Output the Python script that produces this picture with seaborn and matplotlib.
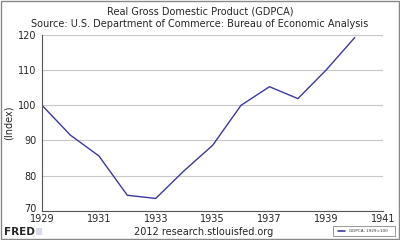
import matplotlib
matplotlib.use("Agg")
import pandas as pd
import seaborn as sns
import matplotlib.pyplot as plt
import matplotlib.transforms as mtransforms
from matplotlib.patches import Rectangle

years = [1929, 1930, 1931, 1932, 1933, 1934, 1935, 1936, 1937, 1938, 1939, 1940]
gdp_index = [100.0, 91.5, 85.6, 74.4, 73.5, 81.4, 88.6, 100.0, 105.3, 101.9, 110.1, 119.3]
x_ticks = [1929, 1931, 1933, 1935, 1937, 1939, 1941]
y_ticks = [70, 80, 90, 100, 110, 120]

df = pd.DataFrame({"year": years, "gdp": gdp_index})

sns.set_style("white")
plt.rcParams["font.family"] = ["DejaVu Sans"]

fig = plt.figure(figsize=(4, 2.4), dpi=100)
ax = fig.add_axes([0.105, 0.122, 0.853, 0.732])

sns.lineplot(data=df, x="year", y="gdp", ax=ax, color="#3a3a9e", linewidth=1.0)

ax.set_xlim(1929, 1941)
ax.set_ylim(70, 120)
ax.set_xticks(x_ticks)
ax.set_yticks(y_ticks)
ax.set_xlabel("")
ax.set_ylabel("(Index)", fontsize=7, labelpad=3)
ax.grid(axis="y", color="#c8c8c8", linewidth=0.8)
ax.tick_params(axis="x", direction="in", length=2, labelsize=7, pad=2.5, color="#999999")
ax.tick_params(axis="y", direction="out", length=3, labelsize=7, pad=1, color="#999999")
for side in ["top", "right"]:
    ax.spines[side].set_visible(False)
for side in ["left", "bottom"]:
    ax.spines[side].set_color("#555555")
    ax.spines[side].set_linewidth(0.8)

# lift the bottom y label a little, as in the original FRED graph
fig.canvas.draw()
lowest = ax.get_yticklabels()[0]
lowest.set_transform(lowest.get_transform() + mtransforms.ScaledTranslation(0, 3 / 100, fig.dpi_scale_trans))

fig.text(0.5, 0.975, "Real Gross Domestic Product (GDPCA)", ha="center", va="top", fontsize=7)
fig.text(0.5, 0.920, "Source: U.S. Department of Commerce: Bureau of Economic Analysis",
         ha="center", va="top", fontsize=7)
fig.text(0.51, 0.033, "2012 research.stlouisfed.org", ha="center", va="center", fontsize=7)
fig.text(0.01, 0.033, "FRED", ha="left", va="center", fontsize=7.5, fontweight="bold")
fig.patches.append(Rectangle((0.09, 0.02), 0.016, 0.03, transform=fig.transFigure,
                             facecolor="#d8dde8", edgecolor="none"))

# legend box
fig.patches.append(Rectangle((0.833, 0.015), 0.155, 0.042, transform=fig.transFigure,
                             facecolor="white", edgecolor="#888888", linewidth=0.6))
fig.lines.append(plt.Line2D([0.845, 0.862], [0.036, 0.036], transform=fig.transFigure,
                            color="#3a3a9e", linewidth=1.2))
fig.text(0.872, 0.036, "GDPCA, 1929=100", ha="left", va="center", fontsize=3, color="#333333")

# outer frame
fig.patches.append(Rectangle((0.002, 0.004), 0.996, 0.992, transform=fig.transFigure,
                             facecolor="none", edgecolor="#888888", linewidth=1.0))

fig.savefig("out.png", dpi=100)
